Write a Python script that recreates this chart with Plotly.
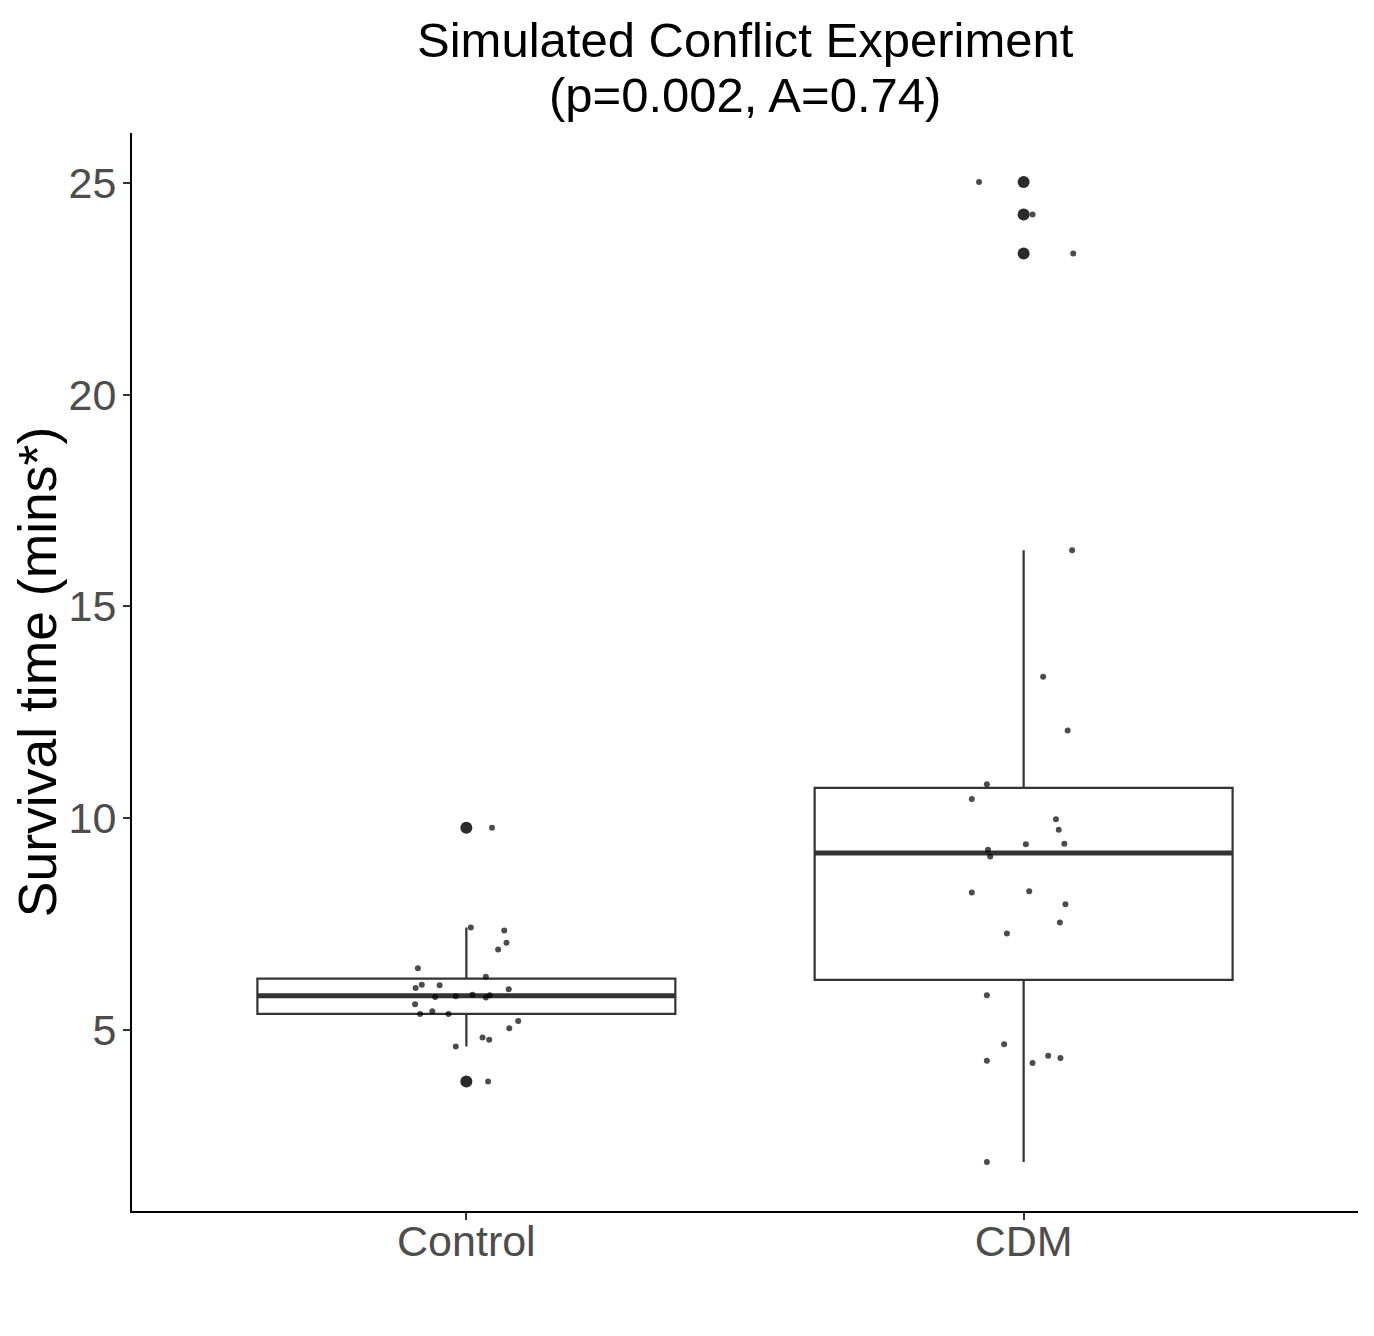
import numpy as np
import plotly.graph_objects as go

# data (survival time, mins*)
groups = ["Control", "CDM"]

control_values = [9.77, 7.41, 7.34, 7.05, 6.89, 6.45, 6.25, 5.98, 6.06, 6.05, 5.95, 5.77, 5.79,
                  5.82, 5.76, 5.81, 5.60, 5.37, 5.43, 5.37, 5.20, 5.03, 4.81, 4.76, 4.60, 3.77]
control_jitter = [0.046, 0.008, 0.068, 0.072, 0.057, -0.087, 0.035, -0.091, -0.080, -0.048, 0.076,
                  -0.056, -0.019, 0.011, 0.035, 0.042, -0.092, -0.083, -0.061, -0.032, 0.093, 0.077,
                  0.029, 0.041, -0.019, 0.039]

cdm_values = [13.34, 12.07, 10.80, 10.45, 9.97, 9.72, 9.38, 9.39, 9.25, 9.09, 8.24, 8.27, 7.96,
              7.53, 7.27, 5.81, 4.65, 4.26, 4.21, 4.38, 4.33, 1.87, 25.03, 24.26, 23.34, 16.33]
cdm_jitter = [0.035, 0.079, -0.066, -0.093, 0.058, 0.063, 0.004, 0.073, -0.064, -0.060, -0.093,
              0.010, 0.075, 0.065, -0.030, -0.066, -0.035, -0.066, 0.016, 0.044, 0.066, -0.066,
              -0.080, 0.016, 0.089, 0.087]

all_values = [control_values, cdm_values]
all_jitter = [control_jitter, cdm_jitter]

title_lines = ["Simulated Conflict Experiment", "(p=0.002, A=0.74)"]

FONT = "Liberation Sans, Arial, sans-serif"
BOX_W = 0.75

fig = go.Figure()


def box_stats(vals):
    v = np.array(vals)
    q1, med, q3 = np.percentile(v, [25, 50, 75])
    iqr = q3 - q1
    lo = v[v >= q1 - 1.5 * iqr].min()
    hi = v[v <= q3 + 1.5 * iqr].max()
    out = v[(v < lo) | (v > hi)]
    return q1, med, q3, lo, hi, out


for i, vals in enumerate(all_values):
    q1, med, q3, lo, hi, out = box_stats(vals)
    fig.add_trace(go.Box(
        x=[i], q1=[q1], median=[med], q3=[q3], lowerfence=[lo], upperfence=[hi],
        width=BOX_W, whiskerwidth=0, boxpoints=False,
        fillcolor="white", line=dict(color="#333333", width=2.2),
        showlegend=False, hoverinfo="skip",
    ))
    # thicker median like ggplot
    fig.add_trace(go.Scatter(
        x=[i - BOX_W / 2, i + BOX_W / 2], y=[med, med], mode="lines",
        line=dict(color="#333333", width=5), showlegend=False, hoverinfo="skip",
    ))
    fig.add_trace(go.Scatter(
        x=[i] * len(out), y=list(out), mode="markers",
        marker=dict(color="#2b2b2b", size=12), showlegend=False,
    ))

for i, (vals, jit) in enumerate(zip(all_values, all_jitter)):
    fig.add_trace(go.Scatter(
        x=[i + j for j in jit], y=vals, mode="markers",
        marker=dict(color="rgba(0,0,0,0.7)", size=6), showlegend=False,
    ))

lo_all = min(min(v) for v in all_values)
hi_all = max(max(v) for v in all_values)
pad = 0.05 * (hi_all - lo_all)

# page body has an 8px margin, so the figure is sized to fit inside the window
fig.update_layout(
    width=1358, height=1320,
    paper_bgcolor="white", plot_bgcolor="white",
    margin=dict(l=124, r=8, t=125, b=117),
    font=dict(family=FONT, color="black"),
)
# two-line title as separate annotations (tighter line spacing, like ggplot)
for txt, ypos in zip(title_lines, [1.0863, 1.0353]):
    fig.add_annotation(
        text=txt, x=0.5, xref="paper", xanchor="center",
        y=ypos, yref="paper", yanchor="middle",
        showarrow=False, font=dict(size=49, color="black"),
    )
fig.update_xaxes(
    range=[-0.6, 1.6], tickvals=list(range(len(groups))), ticktext=groups,
    showgrid=False, zeroline=False, showline=True, linecolor="black", linewidth=2,
    ticks="outside", ticklen=7, tickwidth=2, tickcolor="#333333",
    tickfont=dict(size=43, color="#4D4D4D"), ticklabelstandoff=-16,
)
fig.update_yaxes(
    range=[lo_all - pad, hi_all + pad], dtick=5, tick0=0,
    showgrid=False, zeroline=False, showline=True, linecolor="black", linewidth=2,
    ticks="outside", ticklen=7, tickwidth=2, tickcolor="#333333",
    tickfont=dict(size=43, color="#4D4D4D"), ticklabelstandoff=-2,
    title=dict(text="Survival time (mins*)", font=dict(size=53.5, color="black"), standoff=14),
    automargin=False,
)

fig.write_html("out.html")
